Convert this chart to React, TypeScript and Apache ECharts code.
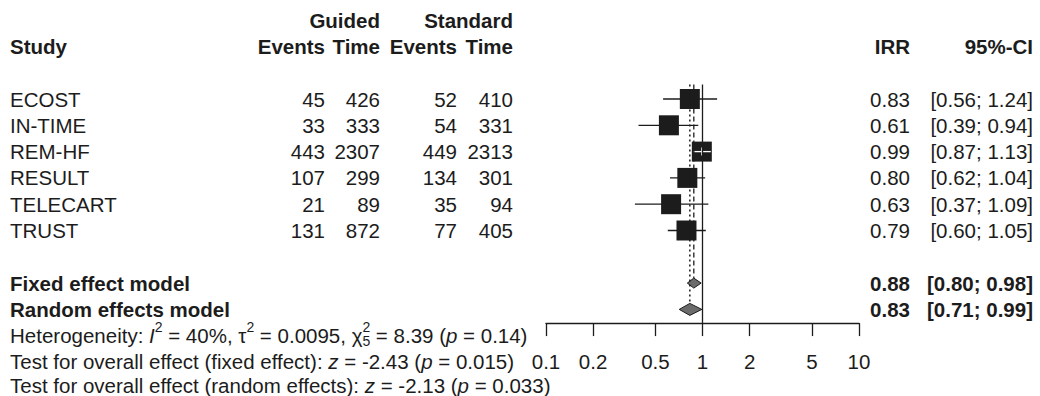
import React, { useEffect, useRef } from "react";
import * as echarts from "echarts";

// ---------- data ----------
const studies = ["ECOST", "IN-TIME", "REM-HF", "RESULT", "TELECART", "TRUST"];
const guidedEvents = [45, 33, 443, 107, 21, 131];
const guidedTime = [426, 333, 2307, 299, 89, 872];
const standardEvents = [52, 54, 449, 134, 35, 77];
const standardTime = [410, 331, 2313, 301, 94, 405];
const irr = [0.83, 0.61, 0.99, 0.8, 0.63, 0.79];
const ciLower = [0.56, 0.39, 0.87, 0.62, 0.37, 0.6];
const ciUpper = [1.24, 0.94, 1.13, 1.04, 1.09, 1.05];

const modelNames = ["Fixed effect model", "Random effects model"];
const modelIrr = [0.88, 0.83];
const modelLower = [0.8, 0.71];
const modelUpper = [0.98, 0.99];

const axisTicks = [0.1, 0.2, 0.5, 1, 2, 5, 10];

const heterogeneity = { i2: "40%", tau2: "0.0095", df: "5", q: "8.39", p: "0.14" };
const fixedTest = { z: "-2.43", p: "0.015" };
const randomTest = { z: "-2.13", p: "0.033" };

// ---------- layout / style ----------
const W = 1040;
const H = 396;
const FONT = "'Liberation Sans', Arial, Helvetica, sans-serif";
const FS = 20.5;
const SUP = 14;
const INK = "#1c1c1c";
const ROW0 = 99;
const ROW_H = 26.3;
const rowY = (k: number) => ROW0 + ROW_H * k;
const Y_HET = 335;
const Y_FIX = 361;
const Y_RAN = 385;
const Y_MIN = -0.55;
const Y_MAX = 8.52;
const PLOT_L = 546;
const PLOT_R = 859;
const BOX = 20;

const X_STUDY = 10;
const X_GE = 325;
const X_GT = 380;
const X_SE = 457;
const X_ST = 513;
const X_IRR = 910;
const X_CI = 1033;

const lg = (v: number) => Math.log10(v);
const fmtCI = (lo: number, hi: number) => `[${lo.toFixed(2)}; ${hi.toFixed(2)}]`;

let measureCtx: CanvasRenderingContext2D | null = null;
function measure(text: string, size: number, bold: boolean, italic: boolean) {
  if (!measureCtx) measureCtx = document.createElement("canvas").getContext("2d");
  measureCtx!.font = `${italic ? "italic " : ""}${bold ? "bold " : ""}${size}px ${FONT}`;
  return measureCtx!.measureText(text).width;
}

function txt(
  text: string,
  x: number,
  y: number,
  o: { bold?: boolean; italic?: boolean; align?: string; size?: number } = {}
) {
  const align = o.align || "left";
  return {
    type: "text",
    x,
    y,
    silent: true,
    style: {
      text,
      fontSize: o.size || FS,
      fontFamily: FONT,
      fontWeight: o.bold ? "bold" : "normal",
      fontStyle: o.italic ? "italic" : "normal",
      fill: INK,
      align,
      textAlign: align,
      verticalAlign: "middle",
      textVerticalAlign: "middle",
    },
  };
}

type Frag = { t: string; it?: boolean; sup?: boolean; sub?: boolean; stack?: boolean };
function inline(frags: Frag[], x0: number, y: number) {
  const out: any[] = [];
  let x = x0;
  let pending = 0;
  for (const f of frags) {
    const size = f.sup || f.sub ? SUP : FS;
    const dy = f.sup ? -8 : f.sub ? 6 : 0;
    const w = measure(f.t, size, false, !!f.it);
    out.push(txt(f.t, x, y + dy, { italic: f.it, size }));
    if (f.stack) {
      pending = w;
    } else {
      x += Math.max(w, pending);
      pending = 0;
    }
  }
  return out;
}

function buildGraphics() {
  const g: any[] = [];
  // header
  g.push(txt("Guided", X_GT, rowY(-3), { bold: true, align: "right" }));
  g.push(txt("Standard", X_ST, rowY(-3), { bold: true, align: "right" }));
  g.push(txt("Study", X_STUDY, rowY(-2), { bold: true }));
  g.push(txt("Events", X_GE, rowY(-2), { bold: true, align: "right" }));
  g.push(txt("Time", X_GT, rowY(-2), { bold: true, align: "right" }));
  g.push(txt("Events", X_SE, rowY(-2), { bold: true, align: "right" }));
  g.push(txt("Time", X_ST, rowY(-2), { bold: true, align: "right" }));
  g.push(txt("IRR", X_IRR, rowY(-2), { bold: true, align: "right" }));
  g.push(txt("95%-CI", X_CI, rowY(-2), { bold: true, align: "right" }));

  studies.forEach((s, i) => {
    const y = rowY(i);
    g.push(txt(s, X_STUDY, y));
    g.push(txt(String(guidedEvents[i]), X_GE, y, { align: "right" }));
    g.push(txt(String(guidedTime[i]), X_GT, y, { align: "right" }));
    g.push(txt(String(standardEvents[i]), X_SE, y, { align: "right" }));
    g.push(txt(String(standardTime[i]), X_ST, y, { align: "right" }));
    g.push(txt(irr[i].toFixed(2), X_IRR, y, { align: "right" }));
    g.push(txt(fmtCI(ciLower[i], ciUpper[i]), X_CI, y, { align: "right" }));
  });

  modelNames.forEach((m, i) => {
    const y = rowY(7 + i);
    g.push(txt(m, X_STUDY, y, { bold: true }));
    g.push(txt(modelIrr[i].toFixed(2), X_IRR, y, { bold: true, align: "right" }));
    g.push(txt(fmtCI(modelLower[i], modelUpper[i]), X_CI, y, { bold: true, align: "right" }));
  });

  g.push(
    ...inline(
      [
        { t: "Heterogeneity: " },
        { t: "I", it: true },
        { t: "2", sup: true },
        { t: ` = ${heterogeneity.i2}, ` },
        { t: "τ" },
        { t: "2", sup: true },
        { t: ` = ${heterogeneity.tau2}, ` },
        { t: "χ" },
        { t: heterogeneity.df, sub: true, stack: true },
        { t: "2", sup: true },
        { t: ` = ${heterogeneity.q} (` },
        { t: "p", it: true },
        { t: ` = ${heterogeneity.p})` },
      ],
      X_STUDY,
      Y_HET
    )
  );
  g.push(
    ...inline(
      [
        { t: "Test for overall effect (fixed effect): " },
        { t: "z", it: true },
        { t: ` = ${fixedTest.z} (` },
        { t: "p", it: true },
        { t: ` = ${fixedTest.p})` },
      ],
      X_STUDY,
      Y_FIX
    )
  );
  g.push(
    ...inline(
      [
        { t: "Test for overall effect (random effects): " },
        { t: "z", it: true },
        { t: ` = ${randomTest.z} (` },
        { t: "p", it: true },
        { t: ` = ${randomTest.p})` },
      ],
      X_STUDY,
      Y_RAN
    )
  );
  return g;
}

function buildOption(): any {
  const yTop = rowY(Y_MIN);
  const yBot = rowY(Y_MAX);
  const tickLogs = axisTicks.map(lg);
  const fixedEnd = 7 - 5 / ROW_H;
  const randomEnd = 8 - 6 / ROW_H;
  return {
    animation: false,
    textStyle: { fontFamily: FONT },
    grid: {
      left: PLOT_L,
      right: W - PLOT_R,
      top: yTop,
      bottom: H - yBot,
      containLabel: false,
    },
    xAxis: {
      type: "value",
      position: "bottom",
      min: -1,
      max: 1,
      axisLine: { show: true, onZero: false, lineStyle: { color: INK, width: 1.3 } },
      axisTick: {
        show: true,
        customValues: tickLogs,
        length: 13,
        inside: false,
        lineStyle: { color: INK, width: 1.3 },
      },
      axisLabel: {
        show: true,
        customValues: tickLogs,
        margin: 28,
        fontSize: FS,
        fontFamily: FONT,
        color: INK,
        formatter: (v: number) => {
          const t = axisTicks.find((a) => Math.abs(lg(a) - v) < 1e-6);
          return t === undefined ? "" : String(t);
        },
      },
      splitLine: { show: false },
    },
    yAxis: {
      type: "value",
      min: Y_MIN,
      max: Y_MAX,
      inverse: true,
      show: false,
      splitLine: { show: false },
    },
    series: [
      {
        type: "line",
        data: [
          [0, Y_MIN],
          [0, Y_MAX],
        ],
        symbol: "none",
        lineStyle: { color: INK, width: 1.3 },
        silent: true,
      },
      {
        type: "line",
        data: [
          [lg(modelIrr[0]), Y_MIN],
          [lg(modelIrr[0]), fixedEnd],
        ],
        symbol: "none",
        lineStyle: { color: INK, width: 1.3, type: [5, 3] },
        silent: true,
      },
      {
        type: "line",
        data: [
          [lg(modelIrr[1]), Y_MIN],
          [lg(modelIrr[1]), randomEnd],
        ],
        symbol: "none",
        lineStyle: { color: INK, width: 1.5, type: [2, 3] },
        silent: true,
      },
      {
        type: "custom",
        silent: true,
        data: irr.map((v, i) => [lg(v), lg(ciLower[i]), lg(ciUpper[i]), i]),
        encode: { x: 0, y: 3 },
        renderItem: (_p: any, api: any) => {
          const k = api.value(3);
          const c = api.coord([api.value(0), k]);
          const l = api.coord([api.value(1), k]);
          const h = api.coord([api.value(2), k]);
          const half = BOX / 2;
          const inside = l[0] >= c[0] - half && h[0] <= c[0] + half;
          const children: any[] = [
            {
              type: "line",
              shape: { x1: l[0], y1: c[1], x2: h[0], y2: c[1] },
              style: { stroke: INK, lineWidth: 1.3 },
            },
            {
              type: "rect",
              shape: { x: c[0] - half, y: c[1] - half, width: BOX, height: BOX },
              style: { fill: INK },
            },
          ];
          if (inside) {
            children.push({
              type: "line",
              shape: { x1: l[0], y1: c[1], x2: h[0], y2: c[1] },
              style: { stroke: "#ffffff", lineWidth: 1.3 },
            });
            children.push({
              type: "line",
              shape: { x1: c[0], y1: c[1] - 4, x2: c[0], y2: c[1] + 4 },
              style: { stroke: "#ffffff", lineWidth: 1.3 },
            });
          }
          return { type: "group", children };
        },
      },
      {
        type: "custom",
        silent: true,
        data: modelIrr.map((v, i) => [lg(v), lg(modelLower[i]), lg(modelUpper[i]), 7 + i]),
        encode: { x: 0, y: 3 },
        renderItem: (p: any, api: any) => {
          const k = api.value(3);
          const c = api.coord([api.value(0), k]);
          const l = api.coord([api.value(1), k]);
          const h = api.coord([api.value(2), k]);
          const hh = p.dataIndex === 0 ? 5 : 6;
          return {
            type: "polygon",
            shape: {
              points: [
                [l[0], c[1]],
                [c[0], c[1] - hh],
                [h[0], c[1]],
                [c[0], c[1] + hh],
              ],
            },
            style: { fill: "#6b6b6b", stroke: INK, lineWidth: 1 },
          };
        },
      },
    ],
    graphic: { elements: buildGraphics() },
  };
}

export default function App() {
  const ref = useRef<HTMLDivElement>(null);
  useEffect(() => {
    if (!ref.current) return;
    const chart = echarts.init(ref.current, undefined, { renderer: "svg" });
    chart.setOption(buildOption());
    return () => chart.dispose();
  }, []);
  return (
    <div
      ref={ref}
      style={{ position: "fixed", left: 0, top: 0, width: W, height: H, background: "#fff" }}
    />
  );
}
